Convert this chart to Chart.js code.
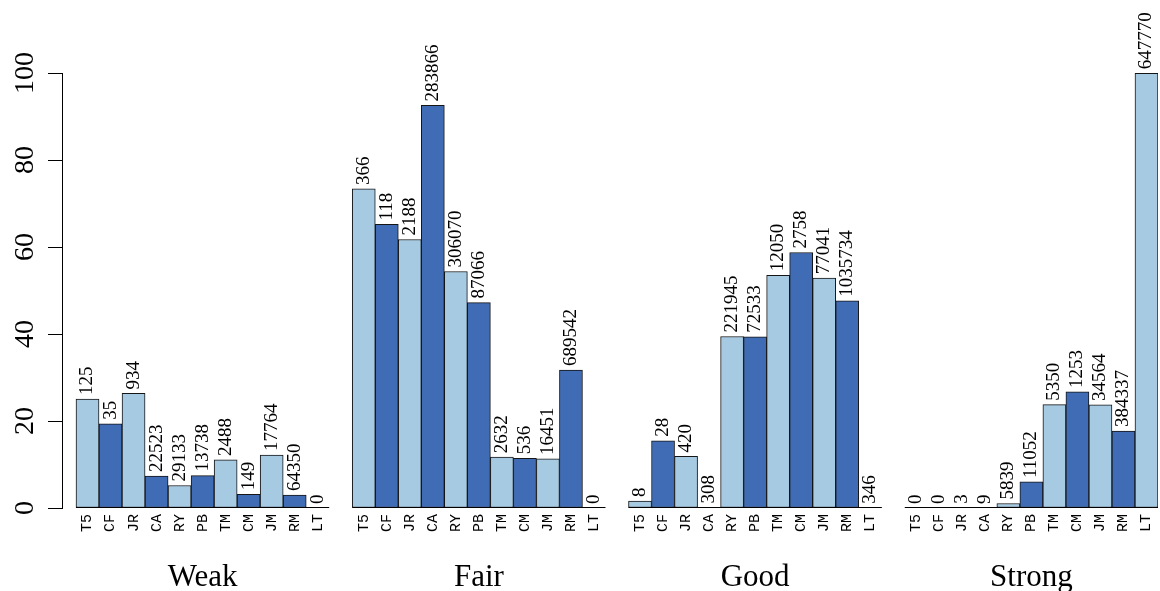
<!DOCTYPE html>
<html>
<head>
<meta charset="utf-8">
<script src="https://cdn.jsdelivr.net/npm/chart.js@4.4.1/dist/chart.umd.min.js"></script>
<style>
  html, body { margin: 0; padding: 0; background: #ffffff; }
  #wrap { width: 1160px; height: 591px; position: relative; }
</style>
</head>
<body>
<div id="wrap"><canvas id="chart"></canvas></div>
<script>
// Categories shown in every group, and the four groups along the x axis
const categories = ['T5', 'CF', 'JR', 'CA', 'RY', 'PB', 'TM', 'CM', 'JM', 'RM', 'LT'];
const groups = ['Weak', 'Fair', 'Good', 'Strong'];

// Share (%) of each category's records that fall in a group
const weakPct   = [25.05, 19.34, 26.35,  7.34,  5.17,  7.45, 11.05,  3.17, 12.18,  2.96,  0];
const fairPct   = [73.35, 65.19, 61.72, 92.55, 54.37, 47.22, 11.69, 11.41, 11.28, 31.72,  0];
const goodPct   = [ 1.60, 15.47, 11.85,  0.10, 39.42, 39.34, 53.51, 58.73, 52.83, 47.64,  0.05];
const strongPct = [ 0,     0,     0.08,  0.00,  1.04,  5.99, 23.76, 26.68, 23.70, 17.68, 99.95];

// Record counts printed above each bar
const weakCounts   = [125, 35, 934, 22523, 29133, 13738, 2488, 149, 17764, 64350, 0];
const fairCounts   = [366, 118, 2188, 283866, 306070, 87066, 2632, 536, 16451, 689542, 0];
const goodCounts   = [8, 28, 420, 308, 221945, 72533, 12050, 2758, 77041, 1035734, 346];
const strongCounts = [0, 0, 3, 9, 5839, 11052, 5350, 1253, 34564, 384337, 647770];

// Y axis tick values
const yTicks = [0, 20, 40, 60, 80, 100];

const LIGHT = '#A6CAE2';
const DARK = '#3F6CB4';
const SLOTS = categories.length + 1;   // one empty slot separates neighbouring groups

const pctByGroup = [weakPct, fairPct, goodPct, strongPct];
const countsByGroup = [weakCounts, fairCounts, goodCounts, strongCounts];

const points = [], colors = [], counts = [], tickPositions = [];
groups.forEach((g, gi) => {
  categories.forEach((c, ci) => {
    const x = gi * SLOTS + ci;
    points.push({ x: x, y: pctByGroup[gi][ci] });
    colors.push(ci % 2 === 0 ? LIGHT : DARK);
    counts.push(countsByGroup[gi][ci]);
    tickPositions.push(x);
  });
});

const SERIF = '"Liberation Serif", "Times New Roman", serif';
const MONO = '"Liberation Mono", "DejaVu Sans Mono", monospace';

// Count labels, per-group baselines, rotated y labels and group names
const annotate = {
  id: 'annotate',
  afterDatasetsDraw(chart) {
    const ctx = chart.ctx;
    const xs = chart.scales.x, ys = chart.scales.y;
    const y0 = Math.round(ys.getPixelForValue(0));
    ctx.save();

    ctx.strokeStyle = '#000';
    ctx.lineWidth = 1;
    groups.forEach((g, gi) => {
      const a = xs.getPixelForValue(gi * SLOTS - 0.5);
      const b = xs.getPixelForValue(gi * SLOTS + categories.length - 0.5);
      ctx.beginPath();
      ctx.moveTo(a, y0 - 0.5);
      ctx.lineTo(b, y0 - 0.5);
      ctx.stroke();
    });

    const meta = chart.getDatasetMeta(0);
    ctx.fillStyle = '#000';
    ctx.font = '19px ' + SERIF;
    ctx.textAlign = 'left';
    ctx.textBaseline = 'middle';
    meta.data.forEach((bar, i) => {
      ctx.save();
      ctx.translate(bar.x, bar.y - 4);
      ctx.rotate(-Math.PI / 2);
      ctx.fillText(String(counts[i]), 0, 0);
      ctx.restore();
    });

    ctx.font = '28px ' + SERIF;
    ctx.textAlign = 'center';
    yTicks.forEach(v => {
      const y = ys.getPixelForValue(v);
      ctx.save();
      ctx.translate(26, y);
      ctx.rotate(-Math.PI / 2);
      ctx.fillText(String(v), 0, 0);
      ctx.restore();
    });

    ctx.font = '31px ' + SERIF;
    ctx.textBaseline = 'alphabetic';
    groups.forEach((g, gi) => {
      const x = xs.getPixelForValue(gi * SLOTS + (categories.length - 1) / 2);
      ctx.fillText(g, x, 586);
    });
    ctx.restore();
  }
};

new Chart(document.getElementById('chart'), {
  type: 'bar',
  data: {
    datasets: [{
      data: points,
      backgroundColor: colors,
      borderColor: '#151515',
      borderWidth: 1,
      borderSkipped: false,
      barPercentage: 1.0,
      categoryPercentage: 1.0
    }]
  },
  options: {
    responsive: true,
    maintainAspectRatio: false,
    animation: false,
    devicePixelRatio: 1,
    layout: { padding: { top: 73, right: 2, left: 0, bottom: 0 } },
    plugins: { legend: { display: false }, tooltip: { enabled: false }, title: { display: false } },
    scales: {
      x: {
        type: 'linear',
        offset: false,
        bounds: 'data',
        min: -1.108,
        max: SLOTS * (groups.length - 1) + categories.length - 0.5,
        grid: { display: false, drawTicks: false },
        border: { display: false },
        afterBuildTicks(axis) { axis.ticks = tickPositions.map(v => ({ value: v })); },
        afterFit(axis) {
          axis.height = 83;
          axis.paddingLeft = 0;
          axis.paddingRight = 0;
        },
        ticks: {
          autoSkip: false,
          minRotation: 90,
          maxRotation: 90,
          padding: 6,
          color: '#000',
          font: { family: MONO, size: 15 },
          callback: (value) => categories[Math.round(value) % SLOTS]
        }
      },
      y: {
        min: 0,
        max: 100,
        afterBuildTicks(axis) { axis.ticks = yTicks.map(v => ({ value: v })); },
        afterFit(axis) {
          axis.width = 62;
          axis.paddingTop = 0;
          axis.paddingBottom = 0;
        },
        grid: { drawOnChartArea: false, drawTicks: true, tickLength: 14, color: '#000', lineWidth: 1 },
        border: { display: true, color: '#000', width: 1 },
        ticks: { display: false }
      }
    }
  },
  plugins: [annotate]
});
</script>
</body>
</html>
